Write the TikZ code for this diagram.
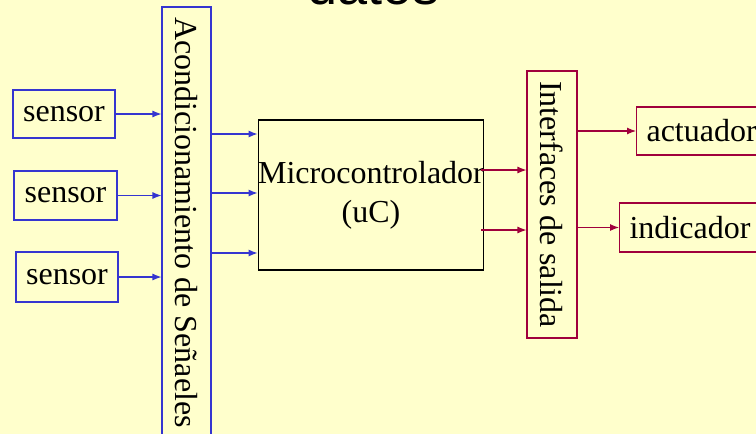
\documentclass[tikz,border=0pt]{standalone}
\usepackage{fontspec}
\setmainfont{Liberation Serif}
\newfontfamily\titlefont{Liberation Sans}
\usetikzlibrary{arrows.meta}
\definecolor{fondo}{HTML}{FFFFCC}
\definecolor{azul}{HTML}{3535D0}
\definecolor{granate}{HTML}{A0003C}

\begin{document}
\begin{tikzpicture}[x=1pt, y=-1pt,
    txt/.style = {font=\fontsize{32}{39}\selectfont, inner sep=0pt},
    caja/.style = {txt, draw, line width=1.1pt, rectangle},
    barra/.style = {caja, rotate=-90},
    flecha/.style = {line width=1.1pt, -{Latex[length=9pt,width=7pt]}}]
        % fondo
        \useasboundingbox(0,0)rectangle(756,434);
        \path[fill=fondo](0,0)rectangle(756,434);
        \clip(0,0)rectangle(756,434);
        \node[font=\titlefont\fontsize{54}{60}\selectfont, anchor=base](titulo)at(373.5,4){datos};
        % sensores
        \node[caja, draw=azul, minimum width=102, minimum height=48](s1)at(64,114){sensor};
        \node[caja, draw=azul, minimum width=103, minimum height=49](s2)at(65.5,195.5){sensor};
        \node[caja, draw=azul, minimum width=102, minimum height=50](s3)at(67,277){sensor};
        % barras (rotate=-90: south = lado izquierdo, north = lado derecho)
        \node[barra, draw=azul, minimum width=431, minimum height=49](acond)at(186.5,222.5){Acondicionamiento de Señaeles};
        \node[barra, draw=granate, minimum width=267, minimum height=50](interf)at(552,204.5){Interfaces de salida};
        % microcontrolador
        \node[caja, draw=black, align=center, minimum width=224, minimum height=150](uc)at(371,195){Microcontrolador\\(uC)};
        % salidas
        \node[caja, draw=granate, anchor=west, inner xsep=10pt, minimum height=48](act)at(636,131){actuador};
        \node[caja, draw=granate, anchor=west, inner xsep=10pt, minimum height=49](ind)at(619,227.5){indicador};
        % flechas de entrada
        \foreach \s in {s1,s2,s3}
        {
            \path[draw, flecha, azul](\s.east)to(\s.east -| acond.south);
        }
        \foreach \y in {134,193,253}
        {
            \path[draw, flecha, azul](acond.north |- 0,\y)to(uc.west |- 0,\y);
        }
        % flechas de salida
        \foreach \y in {170,230}
        {
            \path[draw, flecha, granate]([xshift=-3pt]uc.east |- 0,\y)to(interf.south |- 0,\y);
        }
        \path[draw, flecha, granate](interf.north |- act.west)to(act.west);
        \path[draw, flecha, granate](interf.north |- ind.west)to(ind.west);
    \end{tikzpicture}
\end{document}
